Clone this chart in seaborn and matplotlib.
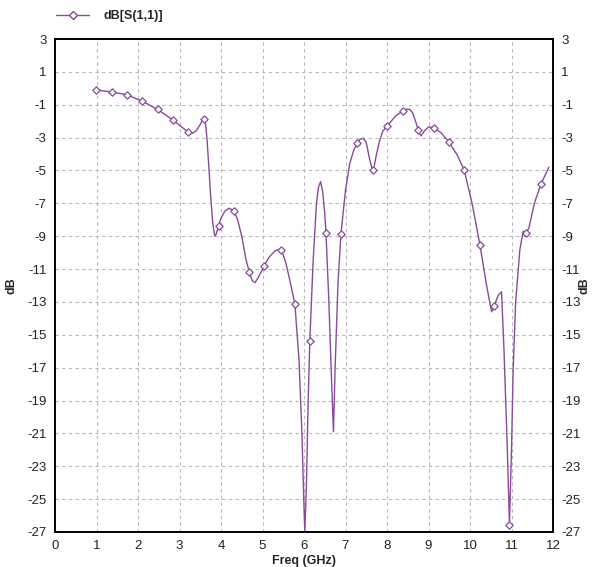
import matplotlib
matplotlib.use("Agg")
import matplotlib.pyplot as plt
from matplotlib.lines import Line2D
import seaborn as sns
import pandas as pd

# ---- data ----
freq_line = [1.00, 1.37, 1.73, 2.09, 2.47, 2.84, 3.05, 3.20, 3.30, 3.40, 3.50, 3.55, 3.59,
             3.62, 3.66, 3.70, 3.75, 3.80, 3.85, 3.88, 3.94, 4.00, 4.10, 4.20, 4.31,
             4.40, 4.50, 4.60, 4.68, 4.75, 4.82, 4.90, 5.04, 5.15, 5.30, 5.40, 5.48,
             5.56, 5.66, 5.78, 5.88, 5.95, 6.00, 6.02, 6.06, 6.10, 6.14, 6.22, 6.30,
             6.35, 6.40, 6.45, 6.50, 6.53, 6.60, 6.66, 6.71, 6.75, 6.82, 6.89, 7.00,
             7.10, 7.20, 7.28, 7.35, 7.43, 7.50, 7.58, 7.64, 7.68, 7.74, 7.82, 7.90,
             8.01, 8.20, 8.38, 8.48, 8.55, 8.62, 8.70, 8.77, 8.82, 8.90, 9.00, 9.13,
             9.30, 9.49, 9.70, 9.86, 10.05, 10.24, 10.40, 10.52, 10.58, 10.68, 10.76,
             10.82, 10.90, 10.95, 11.00, 11.04, 11.10, 11.20, 11.28, 11.35, 11.42,
             11.55, 11.71, 11.90]
db_line = [-0.10, -0.23, -0.39, -0.77, -1.28, -1.93, -2.35, -2.64, -2.75, -2.60, -2.20, -1.95, -1.85,
           -2.0, -3.0, -4.5, -6.5, -8.2, -9.0, -8.9, -8.38, -7.9, -7.45, -7.3, -7.45,
           -8.0, -9.0, -10.4, -11.16, -11.7, -11.83, -11.5, -10.82, -10.3, -9.9, -9.8, -10.0,
           -10.6, -11.7, -13.13, -16.5, -21.0, -25.5, -27.0, -24.0, -19.0, -15.36, -10.5, -7.0,
           -6.0, -5.68, -6.3, -7.6, -8.83, -13.0, -17.5, -20.9, -17.0, -11.8, -8.87, -6.2,
           -4.6, -3.75, -3.35, -3.1, -3.04, -3.3, -4.3, -4.9, -4.9, -4.1, -3.2, -2.6,
           -2.28, -1.7, -1.38, -1.27, -1.28, -1.5, -2.1, -2.7, -2.9, -2.6, -2.35, -2.4,
           -2.7, -3.25, -4.1, -4.97, -7.0, -9.54, -12.0, -13.6, -13.25, -12.6, -12.38,
           -16.0, -22.0, -26.5, -22.0, -17.1, -13.0, -9.85, -8.7, -8.79, -8.5,
           -7.0, -5.83, -4.8]

freq_mark = [0.98, 1.37, 1.73, 2.09, 2.47, 2.84, 3.20, 3.59, 3.94, 4.31, 4.68, 5.04,
             5.44, 5.78, 6.14, 6.53, 6.89, 7.28, 7.66, 8.01, 8.38, 8.75, 9.13, 9.49,
             9.86, 10.24, 10.58, 10.95, 11.35, 11.71]
db_mark = [-0.10, -0.23, -0.39, -0.77, -1.28, -1.93, -2.64, -1.89, -8.38, -7.45, -11.16, -10.82,
           -9.84, -13.13, -15.36, -8.83, -8.87, -3.35, -4.95, -2.28, -1.38, -2.54, -2.40, -3.25,
           -4.97, -9.54, -13.25, -26.6, -8.79, -5.83]

x_ticks = list(range(0, 13))
y_ticks = list(range(-27, 4, 2))
series_name = "dB[S(1,1)]"
x_label = "Freq (GHz)"
y_label = "dB"

color = "#8a4a9a"

sns.set_theme(style="white")
plt.rcParams["font.family"] = ["Liberation Sans", "DejaVu Sans"]
plt.rcParams["axes.unicode_minus"] = False

df_line = pd.DataFrame({"freq": freq_line, "db": db_line})
df_mark = pd.DataFrame({"freq": freq_mark, "db": db_mark})

fig = plt.figure(figsize=(5.94, 5.67), dpi=100)
ax = fig.add_axes([55 / 594, 1 - 532 / 567, (553 - 55) / 594, (532 - 39) / 567])

sns.lineplot(data=df_line, x="freq", y="db", ax=ax, color=color, lw=1.0,
             sort=False, estimator=None)
sns.scatterplot(data=df_mark, x="freq", y="db", ax=ax, marker="D", s=14,
                facecolor="white", edgecolor=color, linewidth=0.9, zorder=3)

ax.set_xlim(0, 12)
ax.set_ylim(-27, 3)
ax.set_xticks(x_ticks)
ax.set_yticks(y_ticks)
ax.tick_params(axis="both", length=0, labelsize=9.5, pad=6, colors="#222222")
ax.grid(True, color="#b8b8b8", linestyle=(0, (3, 3)), linewidth=0.8)
for s in ax.spines.values():
    s.set_color("black")
    s.set_linewidth(1.2)

ax.set_xlabel(x_label, fontsize=9, fontweight="bold")
ax.xaxis.set_label_coords(0.5, -0.047)
ax.set_ylabel(y_label, fontsize=9, fontweight="bold")
ax.yaxis.set_label_coords(-0.075, 0.5)

ax2 = ax.twinx()
ax2.set_ylim(-27, 3)
ax2.set_yticks(y_ticks)
ax2.tick_params(axis="y", length=0, labelsize=9.5, pad=6, colors="#222222")
ax2.set_ylabel(y_label, fontsize=9, fontweight="bold")
ax2.yaxis.set_label_coords(1.052, 0.5)
for s in ax2.spines.values():
    s.set_color("black")
    s.set_linewidth(1.2)

handle = Line2D([], [], color=color, lw=1.0, marker="D", markersize=4,
                markerfacecolor="white", markeredgecolor=color)
fig.legend(handles=[handle], labels=[series_name], loc="center left",
           bbox_to_anchor=(45 / 594, 1 - 16 / 567), frameon=False,
           handlelength=2.6, handletextpad=1.2, numpoints=1,
           prop={"size": 9, "weight": "bold", "family": ["Liberation Sans"]})

fig.savefig("out.png", dpi=100)
